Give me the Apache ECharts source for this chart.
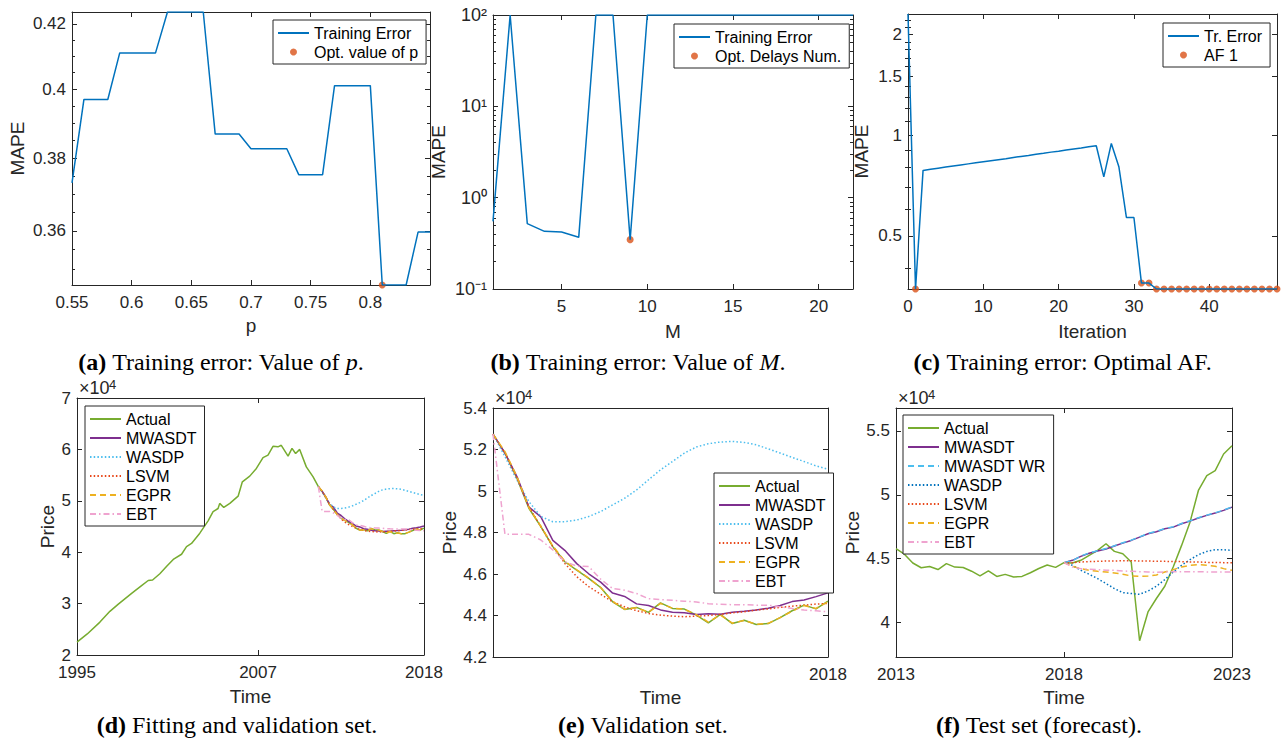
<!DOCTYPE html>
<html>
<head>
<meta charset="utf-8">
<script src="https://cdn.jsdelivr.net/npm/echarts@6.0.0/dist/echarts.min.js"></script>
<style>
html, body { margin: 0; padding: 0; background: #fff; }
#main { width: 1285px; height: 740px; }
</style>
</head>
<body>
<div id="main"></div>
<script>
// (a) training error vs p
const pValues = [0.55,0.56,0.57,0.58,0.59,0.60,0.61,0.62,0.63,0.64,0.65,0.66,0.67,0.68,0.69,0.70,
  0.71,0.72,0.73,0.74,0.75,0.76,0.77,0.78,0.79,0.80,0.81,0.82,0.83,0.84,0.85];
const pError = [0.3731,0.3970,0.3970,0.3970,0.4110,0.4110,0.4110,0.4110,0.4237,0.4237,0.4237,0.4237,
  0.3869,0.3869,0.3869,0.3827,0.3827,0.3827,0.3827,0.3754,0.3754,0.3754,0.4011,0.4011,0.4011,0.4011,
  0.3458,0.3458,0.3458,0.3597,0.3597];
const pOpt = 0.81;

// (b) training error vs number of delays M
const delayNums = [1,2,3,4,5,6,7,8,9,10,11,12,13,14,15,16,17,18,19,20,21,22];
const delayError = [0.55,100,0.52,0.428,0.42,0.368,100,100,0.347,100,100,100,100,100,100,100,100,100,100,100,100,100];
const delayOpt = 9;

// (c) training error over iterations
const iterations = [0,1,2,3,4,5,6,7,8,9,10,11,12,13,14,15,16,17,18,19,20,21,22,23,24,25,26,27,28,29,
  30,31,32,33,34,35,36,37,38,39,40,41,42,43,44,45,46,47,48,49];
const iterError = [2.30,0.3466,0.784,0.790,0.796,0.802,0.808,0.814,0.820,0.826,0.832,0.838,0.844,0.850,
  0.857,0.863,0.869,0.876,0.882,0.889,0.895,0.902,0.909,0.915,0.922,0.929,0.750,0.944,0.804,0.567,
  0.567,0.361,0.361,0.3466,0.3466,0.3466,0.3466,0.3466,0.3466,0.3466,0.3466,0.3466,0.3466,0.3466,
  0.3466,0.3466,0.3466,0.3466,0.3466,0.3466];
const af1Iterations = [1,31,32,33,34,35,36,37,38,39,40,41,42,43,44,45,46,47,48,49];

// (d) fitting set, actual price (x1e4)
const histYears = [1995.00,1995.68,1996.52,1997.18,1997.74,1998.62,1999.28,1999.72,2000.01,2000.49,
  2000.93,2001.38,2001.93,2002.26,2002.59,2003.14,2003.69,2004.02,2004.35,2004.46,2004.73,2005.13,
  2005.68,2005.96,2006.45,2006.89,2007.33,2007.66,2007.99,2008.32,2008.54,2008.99,2009.25,2009.49,
  2009.76,2010.20,2010.64];
const histActual = [2.25,2.41,2.64,2.85,2.99,3.20,3.35,3.45,3.46,3.58,3.72,3.86,3.96,4.11,4.17,4.37,
  4.61,4.79,4.85,4.95,4.87,4.95,5.09,5.37,5.48,5.63,5.84,5.89,6.06,6.05,6.08,5.87,6.02,5.92,6.00,
  5.66,5.47];

// (d)/(e) validation set, quarterly
const valYears = [2011,2011.25,2011.5,2011.75,2012,2012.25,2012.5,2012.75,2013,2013.25,2013.5,2013.75,
  2014,2014.25,2014.5,2014.75,2015,2015.25,2015.5,2015.75,2016,2016.25,2016.5,2016.75,2017,2017.25,
  2017.5,2017.75,2018];
const valActual = [5.274,5.183,5.062,4.917,4.828,4.732,4.659,4.619,4.579,4.535,4.466,4.429,4.439,4.415,
  4.461,4.434,4.431,4.402,4.365,4.405,4.361,4.377,4.357,4.361,4.390,4.423,4.450,4.432,4.469];
const valMWASDT = [5.274,5.183,5.070,4.923,4.875,4.762,4.714,4.650,4.601,4.561,4.508,4.492,4.456,4.448,
  4.427,4.416,4.413,4.405,4.408,4.406,4.416,4.421,4.427,4.435,4.448,4.467,4.475,4.491,4.509];
const valWASDP = [5.274,5.166,5.053,4.949,4.877,4.852,4.852,4.860,4.877,4.901,4.933,4.965,5.005,5.054,
  5.102,5.142,5.183,5.212,5.228,5.236,5.239,5.234,5.223,5.203,5.183,5.162,5.142,5.121,5.105];
const valLSVM = [5.274,5.183,5.062,4.925,4.828,4.732,4.651,4.587,4.539,4.502,4.466,4.442,4.423,4.410,
  4.402,4.397,4.394,4.397,4.400,4.405,4.413,4.418,4.426,4.432,4.439,4.445,4.450,4.455,4.458];
const valEGPR = [5.274,5.190,5.070,4.920,4.830,4.735,4.662,4.620,4.580,4.535,4.468,4.430,4.437,4.416,
  4.458,4.435,4.430,4.404,4.368,4.403,4.363,4.376,4.358,4.362,4.390,4.421,4.448,4.434,4.466];
const valEBT = [5.274,4.791,4.791,4.791,4.764,4.716,4.660,4.638,4.636,4.575,4.530,4.522,4.506,4.481,
  4.477,4.473,4.469,4.465,4.457,4.454,4.452,4.452,4.450,4.450,4.442,4.434,4.426,4.423,4.418];

// (f) test set (forecast), quarterly
const testYears = [2018,2018.25,2018.5,2018.75,2019,2019.25,2019.5,2019.75,2020,2020.25,2020.5,2020.75,
  2021,2021.25,2021.5,2021.75,2022,2022.25,2022.5,2022.75,2023];
const testActual = [4.469,4.466,4.487,4.526,4.565,4.617,4.557,4.539,4.474,3.857,4.083,4.188,4.284,4.435,
  4.604,4.786,5.034,5.151,5.190,5.320,5.385];
const testMWASDT = [4.469,4.487,4.518,4.542,4.560,4.576,4.599,4.622,4.643,4.669,4.695,4.711,4.734,4.747,
  4.773,4.794,4.818,4.839,4.857,4.878,4.904];
const testMWASDTWR = [4.469,4.484,4.521,4.545,4.562,4.579,4.601,4.625,4.645,4.671,4.697,4.714,4.736,4.750,
  4.775,4.797,4.820,4.841,4.860,4.880,4.906];
const testWASDP = [4.469,4.448,4.409,4.378,4.344,4.305,4.266,4.234,4.227,4.221,4.247,4.284,4.336,4.396,
  4.448,4.492,4.531,4.557,4.570,4.570,4.565];
const testLSVM = [4.469,4.469,4.474,4.477,4.479,4.482,4.482,4.484,4.484,4.482,4.482,4.479,4.479,4.477,
  4.477,4.474,4.474,4.471,4.471,4.469,4.469];
const testEGPR = [4.469,4.440,4.422,4.409,4.401,4.396,4.388,4.378,4.365,4.362,4.365,4.372,4.396,4.414,
  4.435,4.448,4.453,4.448,4.440,4.422,4.409];
const testEBT = [4.469,4.435,4.422,4.417,4.414,4.409,4.409,4.404,4.401,4.398,4.396,4.393,4.396,4.398,
  4.398,4.398,4.398,4.396,4.396,4.396,4.396];

// minor ticks of the log axes
const minorA = [0.35,0.355,0.365,0.37,0.375,0.385,0.39,0.395,0.405,0.41,0.415];
const minorB = [0.2,0.3,0.4,0.5,0.6,0.7,0.8,0.9,2,3,4,5,6,7,8,9,20,30,40,50,60,70,80,90];
const minorC = [0.4,0.6,0.7,0.8,0.9,1.1,1.2,1.3,1.4,1.6,1.7,1.8,1.9,2.1,2.2];

const captions = [
  '{b|(a)} Training error: Value of {i|p}.',
  '{b|(b)} Training error: Value of {i|M}.',
  '{b|(c)} Training error: Optimal AF.',
  '{b|(d)} Fitting and validation set.',
  '{b|(e)} Validation set.',
  '{b|(f)} Test set (forecast).'
];

const FONT = '"Liberation Sans", Arial, Helvetica, sans-serif';
const SERIF = '"Liberation Serif", "Times New Roman", serif';
const INK = '#262626';

const zip = (xs, ys) => xs.map((x, i) => [x, ys[i]]);

const grids = [
  {left: 72, top: 12, width: 358, height: 273},
  {left: 493, top: 15, width: 360, height: 274},
  {left: 908, top: 14, width: 369, height: 275},
  {left: 77, top: 398, width: 347, height: 257},
  {left: 493, top: 408, width: 335, height: 249},
  {left: 896, top: 408, width: 336, height: 249}
];

const SUP = {'-': '\u207b', '0': '\u2070', '1': '\u00b9', '2': '\u00b2', '3': '\u00b3', '4': '\u2074'};
const sup = n => String(n).split('').map(c => SUP[c]).join('');
const logFmt = v => String(+(+v).toFixed(3));
const powFmt = v => '10' + sup(Math.round(Math.log10(v)));
const yearFmt = v => String(v);

// axis settings per panel
const axes = [
  {x: {type: 'value', min: 0.55, max: 0.85, ticks: [0.55,0.6,0.65,0.7,0.75,0.8], name: 'p', gap: 31},
   y: {type: 'log', min: 0.3458, max: 0.4237, ticks: [0.36,0.38,0.4,0.42], minor: minorA, name: 'MAPE', gap: 45, fmt: logFmt}},
  {x: {type: 'value', min: 1, max: 22, ticks: [5,10,15,20], name: 'M', gap: 33},
   y: {type: 'log', min: 0.1, max: 100, ticks: [0.1,1,10,100], minor: minorB, name: 'MAPE', gap: 45, fmt: powFmt, size: 18}},
  {x: {type: 'value', min: 0, max: 49, ticks: [0,10,20,30,40], name: 'Iteration', gap: 33},
   y: {type: 'log', min: 0.3466, max: 2.30, ticks: [0.5,1,1.5,2], minor: minorC, name: 'MAPE', gap: 37, fmt: logFmt}},
  {x: {type: 'value', min: 1995, max: 2018, ticks: [1995,2007,2018], name: 'Time', gap: 32, fmt: yearFmt},
   y: {type: 'value', min: 2, max: 7, ticks: [2,3,4,5,6,7], name: 'Price', gap: 20}},
  {x: {type: 'value', min: 2011, max: 2018, ticks: [2018], name: 'Time', gap: 31, fmt: yearFmt},
   y: {type: 'value', min: 4.2, max: 5.4, ticks: [4.2,4.4,4.6,4.8,5,5.2,5.4], name: 'Price', gap: 33}},
  {x: {type: 'value', min: 2013, max: 2023, ticks: [2013,2018,2023], name: 'Time', gap: 31, fmt: yearFmt},
   y: {type: 'value', min: 3.73, max: 5.68, ticks: [4,4.5,5,5.5], name: 'Price', gap: 31}}
];

function makeAxis(gi, pos, a, isX) {
  const main = pos === 'bottom' || pos === 'left';
  const ax = {
    gridIndex: gi, position: pos, type: a.type, min: a.min, max: a.max,
    axisLine: {show: true, onZero: false, lineStyle: {color: INK, width: 1}},
    axisTick: {show: true, inside: true, length: 5, customValues: a.ticks, lineStyle: {color: INK, width: 1}},
    axisLabel: {show: main, customValues: a.ticks, color: INK, fontSize: a.size || 17, fontFamily: FONT,
      margin: isX ? 9 : 6},
    splitLine: {show: false},
    minorTick: {show: false}
  };
  if (a.type === 'log') ax.logBase = 10;
  if (a.fmt) ax.axisLabel.formatter = a.fmt;
  if (main) {
    ax.name = a.name;
    ax.nameLocation = 'middle';
    ax.nameGap = a.gap;
    ax.nameTextStyle = {fontSize: 19, fontFamily: FONT, color: INK};
  }
  return ax;
}

// short ticks for the log-scale minor positions
function minorAxis(gi, pos, a) {
  return {
    gridIndex: gi, position: pos, type: 'log', logBase: 10, min: a.min, max: a.max,
    axisLine: {show: false},
    axisTick: {show: true, inside: true, length: 3, customValues: a.minor, lineStyle: {color: INK, width: 1}},
    axisLabel: {show: false},
    splitLine: {show: false}
  };
}

const xAxes = [], yAxes = [];
axes.forEach((a, gi) => {
  xAxes.push(makeAxis(gi, 'bottom', a.x, true), makeAxis(gi, 'top', a.x, true));
  yAxes.push(makeAxis(gi, 'left', a.y, false), makeAxis(gi, 'right', a.y, false));
});
axes.forEach((a, gi) => {
  if (a.y.minor) yAxes.push(minorAxis(gi, 'left', a.y), minorAxis(gi, 'right', a.y));
});

const DOT = [1.5, 2.2];
const DASH = [6, 4];
const DASHDOT = [6, 3, 1.5, 3];

function line(name, data, gi, color, type) {
  return {
    type: 'line', name, data, xAxisIndex: 2 * gi, yAxisIndex: 2 * gi,
    symbol: 'none', animation: false, silent: true,
    lineStyle: {color, width: 1.5, type: type || 'solid'},
    itemStyle: {color}
  };
}
function dots(name, data, gi) {
  return {
    type: 'scatter', name, data, xAxisIndex: 2 * gi, yAxisIndex: 2 * gi,
    symbol: 'circle', symbolSize: 7, animation: false, silent: true,
    itemStyle: {color: '#D95319'}
  };
}

const optP = pError[pValues.indexOf(pOpt)];
const optM = delayError[delayNums.indexOf(delayOpt)];

const series = [
  line('a:Training Error', zip(pValues, pError), 0, '#0072BD'),
  dots('a:Opt. value of p', [[pOpt, optP]], 0),
  line('b:Training Error', zip(delayNums, delayError), 1, '#0072BD'),
  dots('b:Opt. Delays Num.', [[delayOpt, optM]], 1),
  line('c:Tr. Error', zip(iterations, iterError), 2, '#0072BD'),
  dots('c:AF 1', af1Iterations.map(it => [it, iterError[iterations.indexOf(it)]]), 2),

  line('d:Actual', zip(histYears, histActual).concat(zip(valYears, valActual)), 3, '#77AC30'),
  line('d:MWASDT', zip(valYears, valMWASDT), 3, '#7E2F8E'),
  line('d:WASDP', zip(valYears, valWASDP), 3, '#4DBEEE', DOT),
  line('d:LSVM', zip(valYears, valLSVM), 3, '#E8481A', DOT),
  line('d:EGPR', zip(valYears, valEGPR), 3, '#EDB120', DASH),
  line('d:EBT', zip(valYears, valEBT), 3, '#EFA3CF', DASHDOT),

  line('e:Actual', zip(valYears, valActual), 4, '#77AC30'),
  line('e:MWASDT', zip(valYears, valMWASDT), 4, '#7E2F8E'),
  line('e:WASDP', zip(valYears, valWASDP), 4, '#4DBEEE', DOT),
  line('e:LSVM', zip(valYears, valLSVM), 4, '#E8481A', DOT),
  line('e:EGPR', zip(valYears, valEGPR), 4, '#EDB120', DASH),
  line('e:EBT', zip(valYears, valEBT), 4, '#EFA3CF', DASHDOT),

  line('f:Actual', zip(valYears.slice(8), valActual.slice(8)).concat(zip(testYears.slice(1), testActual.slice(1))), 5, '#77AC30'),
  line('f:MWASDT', zip(testYears, testMWASDT), 5, '#7E2F8E'),
  line('f:MWASDT WR', zip(testYears, testMWASDTWR), 5, '#4DBEEE', DASH),
  line('f:WASDP', zip(testYears, testWASDP), 5, '#0072BD', DOT),
  line('f:LSVM', zip(testYears, testLSVM), 5, '#E8481A', DOT),
  line('f:EGPR', zip(testYears, testEGPR), 5, '#EDB120', DASH),
  line('f:EBT', zip(testYears, testEBT), 5, '#EFA3CF', DASHDOT)
];

function legendFor(key, left, top) {
  return {
    orient: 'vertical', left, top,
    // line entries: hide the centre symbol, keep only the stroke
    data: series.filter(s => s.name.startsWith(key + ':')).map(s =>
      s.type === 'line' ? {name: s.name, itemStyle: {opacity: 0}} : {name: s.name}),
    formatter: n => n.slice(n.indexOf(':') + 1),
    backgroundColor: '#fff', borderColor: INK, borderWidth: 1, borderRadius: 0,
    padding: [5, 8, 4, 4], itemGap: 3, itemWidth: 31, itemHeight: 7,
    selectedMode: false,
    textStyle: {fontSize: 16, fontFamily: FONT, color: '#000'}
  };
}

const captionPos = [[221, 362], [638, 362], [1063, 362], [237, 725], [643, 725], [1039, 725]];
const graphic = captions.map((t, i) => ({
  type: 'text', x: captionPos[i][0], y: captionPos[i][1], silent: true,
  style: {
    text: t, fill: '#000', align: 'center', verticalAlign: 'middle',
    fontSize: 24, fontFamily: SERIF,
    rich: {
      b: {fontSize: 24, fontFamily: SERIF, fontWeight: 'bold', fill: '#000'},
      i: {fontSize: 24, fontFamily: SERIF, fontStyle: 'italic', fill: '#000'}
    }
  }
}));
// x10^4 exponent labels above the price axes
[[79, 397], [495, 407], [898, 407]].forEach(p => {
  graphic.push({
    type: 'text', x: p[0], y: p[1], silent: true,
    style: {text: '\u00d710', fill: INK, fontSize: 18, fontFamily: FONT, align: 'left', verticalAlign: 'bottom'}
  });
  graphic.push({
    type: 'text', x: p[0] + 30, y: p[1] - 19, silent: true,
    style: {text: '4', fill: INK, fontSize: 13, fontFamily: FONT, align: 'left', verticalAlign: 'top'}
  });
});

const chart = echarts.init(document.getElementById('main'), null, {renderer: 'svg'});
chart.setOption({
  backgroundColor: '#fff',
  animation: false,
  grid: grids,
  xAxis: xAxes,
  yAxis: yAxes,
  legend: [
    legendFor('a', 273, 20),
    legendFor('b', 674, 24),
    legendFor('c', 1163, 23),
    legendFor('d', 85, 406),
    legendFor('e', 714, 473),
    legendFor('f', 903, 415)
  ],
  series,
  graphic
});
window.onresize = function () { chart.resize(); };
</script>
</body>
</html>
